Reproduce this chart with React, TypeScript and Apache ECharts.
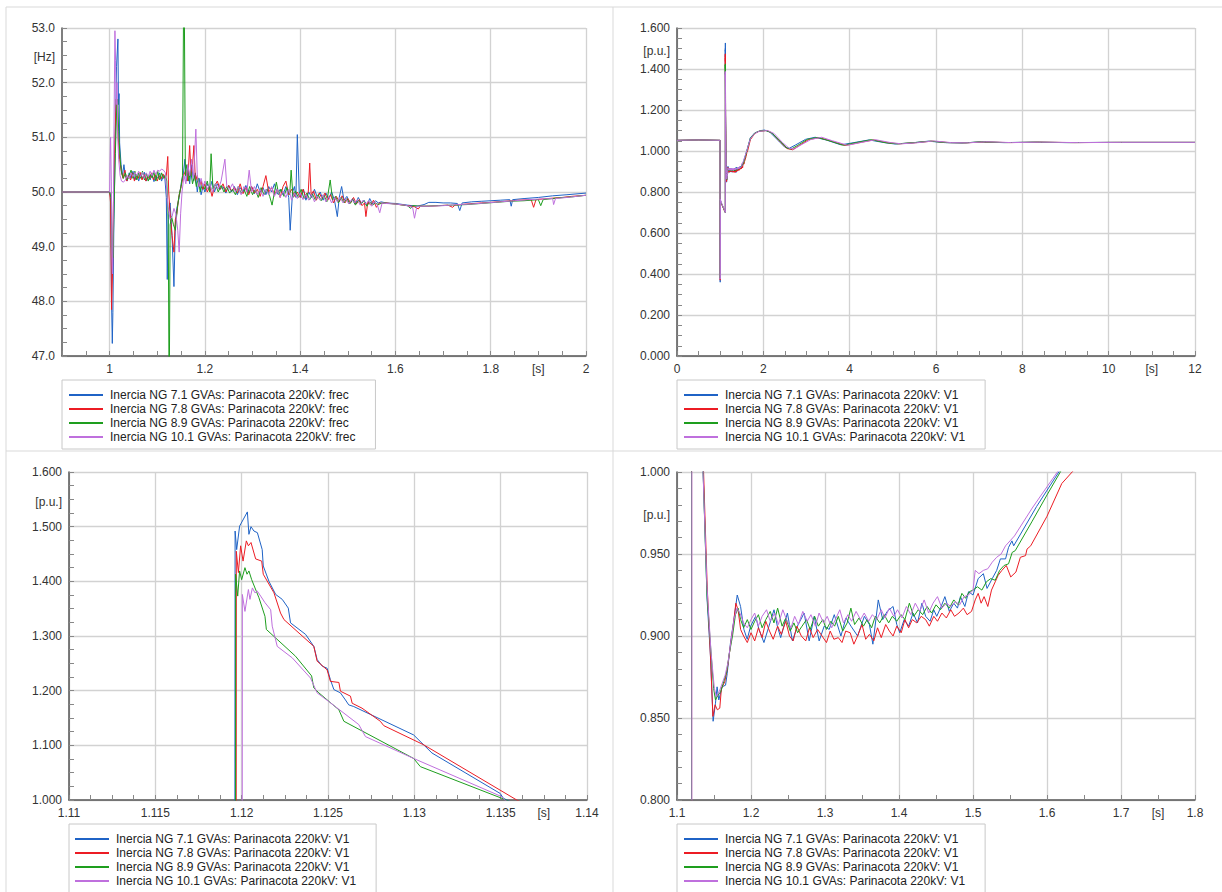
import React, { useEffect, useRef } from 'react';
import * as echarts from 'echarts';

const FONT = "'Liberation Sans', Arial, Helvetica, sans-serif";

const namesFreq = [
  'Inercia NG 7.1 GVAs: Parinacota 220kV: frec',
  'Inercia NG 7.8 GVAs: Parinacota 220kV: frec',
  'Inercia NG 8.9 GVAs: Parinacota 220kV: frec',
  'Inercia NG 10.1 GVAs: Parinacota 220kV: frec',
];
const namesV1 = [
  'Inercia NG 7.1 GVAs: Parinacota 220kV: V1',
  'Inercia NG 7.8 GVAs: Parinacota 220kV: V1',
  'Inercia NG 8.9 GVAs: Parinacota 220kV: V1',
  'Inercia NG 10.1 GVAs: Parinacota 220kV: V1',
];
const colors = ['#1f63c6', '#ec1c24', '#1e9e1e', '#bf70dd'];

// tick labels
const freqXLabels = [1, 1.2, 1.4, 1.6, 1.8, 2];
const v1FullXLabels = [0, 2, 4, 6, 8, 10, 12];
const v1ZoomXLabels = [1.11, 1.115, 1.12, 1.125, 1.13, 1.135, 1.14];
const v1MidXLabels = [1.1, 1.2, 1.3, 1.4, 1.5, 1.6, 1.7, 1.8];
const unitPos = { freq: 1.9, full: 11, zoom: 1.1375, mid: 1.75 };

// frequency [s, Hz]
const freqBlue = [
  [0.9,50.0],[1.0,50.0],[1.002,49.9],[1.004,48.0],[1.0056,47.23],[1.0068,47.8],[1.009,49.5],[1.012,51.0],[1.0145,52.3],[1.0174,52.8],[1.0185,51.6],[1.0198,51.8],[1.021,50.9],[1.024,50.5],[1.027,50.3],[1.03,50.5],[1.033,50.3],[1.037,50.2],[1.041,50.35],[1.045,50.25],[1.049,50.38],[1.053,50.22],[1.057,50.32],[1.061,50.2],[1.065,50.33],[1.069,50.24],[1.073,50.36],[1.077,50.2],[1.081,50.3],[1.085,50.22],[1.089,50.34],[1.093,50.19],[1.097,50.3],[1.101,50.25],[1.105,50.35],[1.109,50.2],[1.113,50.3],[1.116,50.25],[1.119,49.9],[1.121,48.4],[1.123,49.6],[1.127,49.8],[1.131,49.2],[1.135,48.27],[1.138,49.4],[1.141,49.7],[1.146,49.9],[1.151,50.2],[1.155,50.35],[1.158,50.6],[1.161,50.2],[1.165,50.4],[1.168,50.15],[1.172,50.5],[1.176,50.2],[1.18,50.35],[1.184,50.0],[1.188,50.25],[1.192,49.95],[1.196,50.1],[1.2,50.0],[1.205,50.15],[1.21,50.05],[1.215,50.2],[1.22,50.0],[1.226,50.15],[1.232,50.05],[1.238,50.1],[1.244,49.98],[1.25,50.12],[1.256,50.0],[1.262,50.1],[1.268,49.95],[1.274,50.08],[1.28,50.0],[1.286,50.12],[1.292,49.98],[1.298,50.1],[1.304,49.97],[1.31,50.15],[1.316,50.0],[1.322,50.08],[1.328,49.95],[1.334,50.1],[1.34,50.0],[1.346,50.15],[1.352,49.96],[1.358,50.05],[1.364,49.95],[1.37,50.1],[1.376,49.9],[1.379,49.3],[1.384,50.0],[1.388,50.1],[1.391,49.9],[1.394,51.05],[1.398,50.0],[1.402,49.9],[1.407,50.05],[1.412,49.85],[1.418,50.0],[1.424,49.9],[1.43,50.05],[1.436,49.9],[1.442,50.0],[1.448,49.85],[1.454,49.98],[1.46,49.88],[1.466,50.0],[1.472,49.85],[1.478,49.55],[1.482,49.9],[1.487,50.1],[1.492,49.85],[1.498,49.92],[1.504,49.8],[1.51,49.88],[1.516,49.78],[1.522,49.9],[1.528,49.8],[1.534,49.85],[1.54,49.75],[1.546,49.88],[1.552,49.78],[1.558,49.84],[1.564,49.8],[1.57,49.82],[1.58,49.8],[1.6,49.79],[1.625,49.76],[1.645,49.74],[1.66,49.77],[1.67,49.81],[1.685,49.81],[1.7,49.8],[1.715,49.8],[1.73,49.79],[1.735,49.66],[1.74,49.8],[1.76,49.82],[1.78,49.83],[1.8,49.84],[1.82,49.85],[1.84,49.86],[1.843,49.74],[1.846,49.86],[1.87,49.88],[1.9,49.9],[1.93,49.93],[1.96,49.95],[2.0,49.98],
];
const freqRed = [
  [0.9,50.0],[1.0,50.0],[1.002,49.8],[1.0035,48.3],[1.004,47.85],[1.006,48.5],[1.008,49.8],[1.011,51.0],[1.014,51.7],[1.016,51.4],[1.018,51.0],[1.021,50.6],[1.024,50.4],[1.028,50.25],[1.032,50.4],[1.036,50.2],[1.04,50.3],[1.044,50.22],[1.048,50.35],[1.052,50.2],[1.056,50.3],[1.06,50.25],[1.064,50.36],[1.068,50.22],[1.072,50.32],[1.076,50.2],[1.08,50.3],[1.084,50.24],[1.088,50.35],[1.092,50.22],[1.096,50.32],[1.1,50.2],[1.104,50.3],[1.108,50.24],[1.112,50.33],[1.116,50.25],[1.119,50.3],[1.122,50.65],[1.124,50.0],[1.127,49.6],[1.131,49.2],[1.135,48.9],[1.138,49.5],[1.141,49.6],[1.145,49.9],[1.15,50.1],[1.155,50.3],[1.16,50.4],[1.164,50.2],[1.168,50.85],[1.171,50.3],[1.174,50.5],[1.177,50.85],[1.18,50.2],[1.184,50.3],[1.188,50.1],[1.192,50.2],[1.196,50.05],[1.2,50.15],[1.205,50.0],[1.21,50.1],[1.215,49.92],[1.22,50.1],[1.226,50.2],[1.232,50.05],[1.238,50.15],[1.244,50.0],[1.25,50.12],[1.256,50.02],[1.262,50.08],[1.268,49.98],[1.274,50.15],[1.28,49.97],[1.286,50.08],[1.292,49.95],[1.298,50.1],[1.304,49.98],[1.31,50.05],[1.316,49.92],[1.322,50.1],[1.328,50.3],[1.334,50.0],[1.34,50.08],[1.346,49.95],[1.352,50.05],[1.358,49.9],[1.364,50.1],[1.37,50.2],[1.376,49.95],[1.382,50.05],[1.388,49.92],[1.394,50.0],[1.4,49.9],[1.406,50.05],[1.412,49.9],[1.417,50.0],[1.42,50.53],[1.423,49.95],[1.428,50.02],[1.434,49.85],[1.44,49.98],[1.446,49.88],[1.452,49.98],[1.458,49.85],[1.464,49.95],[1.47,49.8],[1.476,49.92],[1.482,49.82],[1.488,49.93],[1.494,49.8],[1.5,49.88],[1.506,49.8],[1.512,49.9],[1.518,49.78],[1.524,49.86],[1.53,49.75],[1.535,49.8],[1.538,49.55],[1.542,49.82],[1.548,49.76],[1.554,49.85],[1.56,49.72],[1.566,49.8],[1.572,49.79],[1.58,49.8],[1.6,49.78],[1.625,49.75],[1.64,49.73],[1.648,49.69],[1.652,49.74],[1.67,49.74],[1.69,49.75],[1.71,49.76],[1.72,49.72],[1.725,49.76],[1.75,49.78],[1.78,49.8],[1.8,49.81],[1.83,49.83],[1.86,49.85],[1.885,49.86],[1.89,49.72],[1.895,49.86],[1.92,49.88],[1.95,49.9],[1.97,49.92],[2.0,49.94],
];
const freqGreen = [
  [0.9,50.0],[1.0,50.0],[1.003,49.9],[1.005,49.0],[1.007,48.8],[1.009,49.6],[1.012,50.7],[1.015,51.6],[1.017,51.7],[1.019,51.1],[1.022,50.6],[1.025,50.35],[1.029,50.25],[1.033,50.35],[1.037,50.22],[1.041,50.3],[1.045,50.4],[1.049,50.25],[1.053,50.38],[1.057,50.22],[1.061,50.35],[1.065,50.25],[1.069,50.38],[1.073,50.22],[1.077,50.34],[1.081,50.2],[1.085,50.32],[1.089,50.26],[1.093,50.36],[1.097,50.2],[1.101,50.38],[1.105,50.22],[1.109,50.35],[1.113,50.25],[1.117,50.32],[1.12,50.2],[1.123,49.5],[1.125,46.0],[1.127,49.4],[1.13,49.55],[1.134,49.4],[1.138,49.3],[1.142,49.7],[1.146,49.95],[1.15,50.1],[1.153,50.3],[1.156,54.5],[1.159,50.3],[1.162,50.5],[1.166,50.2],[1.17,50.4],[1.174,50.15],[1.178,50.3],[1.182,50.1],[1.186,50.25],[1.19,50.0],[1.195,50.15],[1.2,50.05],[1.205,50.2],[1.21,50.0],[1.213,50.7],[1.217,50.05],[1.222,50.15],[1.228,50.0],[1.234,50.12],[1.24,50.0],[1.246,50.1],[1.252,49.98],[1.258,50.05],[1.264,49.95],[1.27,50.1],[1.276,49.98],[1.282,50.05],[1.288,49.92],[1.294,50.1],[1.3,49.95],[1.306,50.05],[1.312,49.9],[1.318,50.08],[1.324,49.95],[1.33,50.05],[1.336,49.92],[1.341,49.76],[1.346,50.0],[1.35,50.18],[1.355,49.95],[1.36,50.05],[1.366,49.92],[1.372,50.08],[1.378,49.95],[1.381,50.4],[1.385,49.9],[1.39,50.02],[1.396,49.9],[1.402,50.05],[1.408,49.88],[1.414,49.98],[1.42,49.86],[1.426,49.96],[1.432,49.85],[1.438,49.95],[1.444,49.84],[1.45,49.94],[1.456,49.82],[1.463,50.22],[1.468,49.85],[1.474,49.92],[1.48,49.8],[1.486,49.9],[1.492,49.8],[1.498,49.88],[1.504,49.78],[1.51,49.86],[1.516,49.76],[1.522,49.85],[1.528,49.78],[1.534,49.84],[1.54,49.74],[1.546,49.82],[1.552,49.76],[1.558,49.8],[1.564,49.77],[1.572,49.8],[1.6,49.78],[1.625,49.75],[1.632,49.7],[1.636,49.75],[1.66,49.74],[1.69,49.75],[1.72,49.76],[1.75,49.77],[1.78,49.79],[1.81,49.81],[1.84,49.83],[1.87,49.84],[1.9,49.86],[1.905,49.75],[1.91,49.86],[1.94,49.89],[1.97,49.91],[2.0,49.94],
];
const freqPurple = [
  [0.9,50.0],[1.0,50.0],[1.001,50.6],[1.002,51.0],[1.0035,50.2],[1.005,48.9],[1.006,48.5],[1.008,49.8],[1.0095,51.5],[1.0111,52.95],[1.0125,52.4],[1.014,51.6],[1.0155,52.0],[1.017,51.0],[1.019,50.6],[1.022,50.3],[1.025,50.2],[1.029,50.18],[1.033,50.22],[1.037,50.3],[1.041,50.25],[1.045,50.35],[1.049,50.28],[1.053,50.36],[1.057,50.3],[1.061,50.38],[1.065,50.28],[1.069,50.36],[1.073,50.25],[1.077,50.35],[1.081,50.28],[1.085,50.38],[1.089,50.3],[1.093,50.4],[1.097,50.32],[1.101,50.4],[1.105,50.38],[1.109,50.42],[1.113,50.4],[1.117,50.35],[1.12,50.0],[1.123,49.7],[1.127,49.5],[1.131,49.55],[1.135,49.7],[1.139,49.6],[1.143,49.3],[1.146,48.9],[1.149,49.6],[1.152,50.0],[1.156,50.3],[1.16,50.15],[1.164,50.5],[1.168,50.3],[1.172,50.6],[1.176,50.25],[1.181,51.15],[1.184,50.3],[1.188,50.1],[1.192,50.25],[1.196,50.1],[1.2,50.2],[1.205,50.05],[1.21,50.15],[1.216,50.0],[1.222,50.15],[1.228,50.05],[1.234,50.2],[1.242,50.6],[1.246,50.1],[1.252,50.05],[1.258,50.15],[1.264,50.0],[1.27,50.1],[1.276,49.95],[1.282,50.1],[1.288,50.0],[1.293,50.4],[1.298,50.0],[1.304,50.1],[1.31,49.95],[1.316,50.05],[1.322,49.92],[1.328,50.05],[1.334,49.95],[1.34,50.1],[1.346,49.92],[1.352,50.05],[1.358,49.9],[1.364,50.02],[1.37,49.9],[1.376,50.05],[1.382,49.85],[1.388,49.98],[1.394,49.88],[1.4,49.98],[1.406,49.86],[1.412,49.95],[1.418,49.85],[1.424,49.95],[1.43,49.82],[1.436,49.92],[1.442,49.85],[1.448,49.95],[1.454,49.82],[1.46,49.92],[1.466,49.8],[1.472,49.9],[1.478,49.82],[1.484,49.9],[1.49,49.8],[1.496,49.88],[1.502,49.78],[1.508,49.86],[1.514,49.8],[1.52,49.86],[1.526,49.76],[1.532,49.85],[1.538,49.78],[1.544,49.84],[1.55,49.74],[1.556,49.82],[1.562,49.76],[1.567,49.62],[1.572,49.8],[1.58,49.79],[1.6,49.78],[1.62,49.76],[1.636,49.72],[1.64,49.52],[1.645,49.74],[1.67,49.74],[1.7,49.75],[1.73,49.77],[1.76,49.78],[1.79,49.8],[1.82,49.82],[1.85,49.84],[1.88,49.86],[1.9,49.87],[1.93,49.88],[1.932,49.77],[1.936,49.88],[1.96,49.9],[2.0,49.94],
];

// voltage V1 [s, p.u.] (shared by the three voltage panels)
const v1Blue = [
  [0,1.052],[0.5,1.054],[0.998,1.052],[1.0005,0.36],[1.003,0.76],[1.04,0.74],[1.08,0.72],[1.1,0.71],[1.1196,0.70],
  [1.11962,1.492],[1.11971,1.458],[1.11988,1.501],[1.12033,1.527],[1.12042,1.486],[1.12054,1.5],[1.12071,1.492],[1.12091,1.489],[1.12119,1.458],[1.12125,1.428],[1.12158,1.4],[1.12197,1.376],[1.12235,1.367],[1.1227,1.351],[1.12283,1.324],[1.1237,1.303],[1.12418,1.281],[1.12437,1.257],[1.12466,1.245],[1.12495,1.241],[1.12514,1.22],[1.12534,1.202],[1.12572,1.196],[1.12601,1.183],[1.1262,1.174],[1.12649,1.171],[1.12996,1.119],[1.13102,1.086],[1.13497,1.012],[1.13516,1.003],
  [1.1407,0.922],[1.1452,0.888],[1.1488,0.848],[1.152,0.859],[1.1542,0.869],[1.1565,0.861],[1.161,0.869],[1.1656,0.87],[1.1678,0.877],[1.1723,0.896],[1.1769,0.91],[1.1814,0.925],[1.1859,0.918],[1.1904,0.904],[1.1949,0.898],[1.1995,0.906],[1.2062,0.912],[1.2108,0.904],[1.2175,0.896],[1.2243,0.906],[1.2311,0.916],[1.2356,0.906],[1.2401,0.899],[1.2492,0.914],[1.256,0.897],[1.2627,0.906],[1.2718,0.914],[1.2786,0.897],[1.2854,0.912],[1.2921,0.897],[1.2989,0.906],[1.3057,0.904],[1.3125,0.913],[1.3215,0.9],[1.3283,0.911],[1.3351,0.906],[1.3441,0.9],[1.3532,0.912],[1.36,0.907],[1.3647,0.895],[1.372,0.922],[1.378,0.91],[1.384,0.915],[1.392,0.918],[1.397,0.907],[1.401,0.902],[1.407,0.91],[1.413,0.906],[1.419,0.914],[1.425,0.908],[1.431,0.92],[1.436,0.912],[1.442,0.909],[1.447,0.916],[1.451,0.912],[1.457,0.918],[1.462,0.924],[1.468,0.915],[1.474,0.92],[1.479,0.917],[1.483,0.924],[1.489,0.918],[1.494,0.927],[1.5,0.925],[1.507,0.935],[1.514,0.938],[1.519,0.929],[1.526,0.935],[1.532,0.94],[1.537,0.947],[1.544,0.947],[1.548,0.954],[1.5526,0.958],[1.555,0.955],[1.586,0.979],[1.616,1.0],
  [1.7,1.065],[1.8,1.088],[1.95,1.1],[2.03,1.102],[2.15,1.092],[2.35,1.05],[2.5,1.018],[2.6,1.013],[2.75,1.03],[2.98,1.057],[3.2,1.067],[3.45,1.054],[3.8,1.03],[4.1,1.041],[4.45,1.054],[4.8,1.041],[5.05,1.034],[5.45,1.04],[5.82,1.048],[6.2,1.041],[6.6,1.039],[7.0,1.044],[7.55,1.041],[8.25,1.043],[9.0,1.041],[10.0,1.042],[12,1.042],
];
const v1Red = [
  [0,1.052],[0.5,1.054],[0.998,1.052],[1.0006,0.37],[1.0032,0.755],[1.04,0.738],[1.08,0.718],[1.1,0.708],[1.11968,0.70],
  [1.11969,1.455],[1.11981,1.416],[1.11994,1.465],[1.12008,1.437],[1.12027,1.474],[1.12039,1.465],[1.12054,1.471],[1.12081,1.441],[1.12116,1.437],[1.12125,1.413],[1.12187,1.379],[1.12225,1.342],[1.12245,1.33],[1.12418,1.281],[1.12437,1.254],[1.12495,1.238],[1.12514,1.217],[1.12563,1.215],[1.12572,1.199],[1.1263,1.19],[1.1264,1.177],[1.12697,1.168],[1.12803,1.144],[1.12823,1.136],[1.13054,1.101],[1.13593,1.0],
  [1.1408,0.93],[1.1455,0.885],[1.1485,0.851],[1.1515,0.858],[1.1545,0.855],[1.1578,0.856],[1.16,0.868],[1.1645,0.872],[1.168,0.88],[1.1725,0.895],[1.1765,0.908],[1.1795,0.92],[1.1825,0.916],[1.186,0.904],[1.19,0.9],[1.195,0.896],[1.2,0.902],[1.205,0.897],[1.21,0.905],[1.215,0.899],[1.22,0.909],[1.225,0.903],[1.23,0.898],[1.236,0.906],[1.241,0.901],[1.247,0.909],[1.252,0.9],[1.257,0.897],[1.262,0.906],[1.268,0.9],[1.274,0.897],[1.279,0.905],[1.284,0.899],[1.29,0.904],[1.296,0.9],[1.302,0.896],[1.307,0.903],[1.312,0.898],[1.318,0.899],[1.323,0.896],[1.328,0.903],[1.334,0.902],[1.339,0.895],[1.344,0.9],[1.35,0.907],[1.355,0.898],[1.36,0.901],[1.366,0.897],[1.371,0.905],[1.376,0.899],[1.382,0.907],[1.387,0.903],[1.392,0.9],[1.397,0.906],[1.403,0.902],[1.408,0.91],[1.413,0.905],[1.418,0.91],[1.424,0.908],[1.43,0.912],[1.436,0.91],[1.441,0.906],[1.447,0.912],[1.452,0.909],[1.458,0.914],[1.464,0.911],[1.47,0.916],[1.475,0.912],[1.481,0.914],[1.487,0.917],[1.492,0.913],[1.498,0.915],[1.503,0.922],[1.507,0.926],[1.511,0.92],[1.515,0.924],[1.52,0.918],[1.525,0.928],[1.53,0.933],[1.534,0.937],[1.539,0.94],[1.545,0.943],[1.551,0.936],[1.558,0.939],[1.564,0.948],[1.571,0.949],[1.573,0.953],[1.578,0.955],[1.6,0.973],[1.62,0.993],[1.638,1.002],
  [1.7,1.055],[1.8,1.085],[1.9,1.096],[2.08,1.1],[2.2,1.088],[2.4,1.043],[2.55,1.012],[2.68,1.006],[2.82,1.025],[3.05,1.056],[3.3,1.065],[3.55,1.05],[3.9,1.027],[4.2,1.04],[4.55,1.054],[4.9,1.04],[5.15,1.035],[5.5,1.04],[5.9,1.048],[6.3,1.041],[6.7,1.04],[7.1,1.044],[7.7,1.041],[8.4,1.043],[9.2,1.041],[10.2,1.042],[12,1.042],
];
const v1Green = [
  [0,1.052],[0.5,1.054],[0.998,1.052],[1.0006,0.38],[1.0031,0.758],[1.04,0.739],[1.08,0.72],[1.1,0.709],[1.11964,0.70],
  [1.11965,1.413],[1.11977,1.373],[1.11988,1.419],[1.12,1.403],[1.12019,1.425],[1.12031,1.413],[1.12042,1.419],[1.12058,1.403],[1.121,1.37],[1.12135,1.336],[1.12143,1.312],[1.12312,1.263],[1.12405,1.227],[1.12418,1.205],[1.12447,1.196],[1.12563,1.165],[1.12592,1.144],[1.12996,1.076],[1.13035,1.061],[1.13516,1.002],
  [1.1405,0.925],[1.1455,0.893],[1.1495,0.868],[1.152,0.861],[1.1555,0.864],[1.159,0.866],[1.163,0.872],[1.167,0.878],[1.171,0.89],[1.175,0.9],[1.179,0.913],[1.1825,0.917],[1.186,0.91],[1.19,0.905],[1.195,0.91],[1.2,0.904],[1.205,0.909],[1.21,0.913],[1.215,0.905],[1.22,0.91],[1.226,0.915],[1.231,0.908],[1.236,0.917],[1.242,0.906],[1.247,0.911],[1.253,0.903],[1.258,0.908],[1.263,0.902],[1.269,0.906],[1.275,0.91],[1.28,0.904],[1.286,0.912],[1.291,0.906],[1.297,0.91],[1.302,0.904],[1.308,0.909],[1.313,0.906],[1.318,0.912],[1.324,0.903],[1.33,0.908],[1.335,0.917],[1.34,0.907],[1.346,0.911],[1.352,0.906],[1.357,0.91],[1.363,0.905],[1.368,0.912],[1.374,0.908],[1.38,0.913],[1.386,0.908],[1.391,0.912],[1.397,0.909],[1.403,0.913],[1.408,0.91],[1.414,0.92],[1.42,0.912],[1.426,0.916],[1.432,0.913],[1.438,0.918],[1.444,0.914],[1.45,0.919],[1.456,0.916],[1.462,0.92],[1.468,0.917],[1.474,0.922],[1.48,0.919],[1.485,0.926],[1.49,0.923],[1.495,0.927],[1.5,0.928],[1.506,0.93],[1.512,0.928],[1.518,0.933],[1.524,0.935],[1.53,0.934],[1.536,0.94],[1.542,0.943],[1.548,0.944],[1.553,0.951],[1.557,0.952],[1.58,0.97],[1.6,0.986],[1.618,1.0],
  [1.7,1.062],[1.8,1.087],[1.9,1.097],[2.06,1.1],[2.2,1.088],[2.4,1.045],[2.55,1.014],[2.65,1.01],[2.8,1.028],[3.02,1.057],[3.25,1.066],[3.5,1.052],[3.85,1.028],[4.15,1.041],[4.5,1.055],[4.85,1.04],[5.1,1.035],[5.5,1.041],[5.88,1.048],[6.25,1.041],[6.7,1.04],[7.05,1.045],[7.6,1.041],[8.35,1.043],[9.1,1.041],[10.1,1.042],[12,1.042],
];
const v1Purple = [
  [0,1.052],[0.5,1.054],[0.998,1.052],[1.0006,0.375],[1.0031,0.765],[1.04,0.742],[1.08,0.722],[1.1,0.712],[1.12003,0.70],
  [1.12004,1.376],[1.12019,1.345],[1.12039,1.385],[1.12048,1.367],[1.12062,1.388],[1.12077,1.379],[1.12091,1.382],[1.1211,1.373],[1.12135,1.361],[1.12168,1.348],[1.12177,1.318],[1.12206,1.281],[1.12293,1.26],[1.12399,1.223],[1.12437,1.196],[1.12505,1.18],[1.12678,1.138],[1.12717,1.116],[1.12996,1.076],[1.13507,1.006],[1.13526,0.999],
  [1.1405,0.93],[1.146,0.89],[1.1505,0.868],[1.1533,0.863],[1.157,0.866],[1.161,0.871],[1.165,0.876],[1.169,0.884],[1.173,0.897],[1.177,0.91],[1.181,0.917],[1.185,0.914],[1.19,0.908],[1.195,0.905],[1.2,0.91],[1.205,0.914],[1.21,0.906],[1.215,0.912],[1.221,0.916],[1.226,0.909],[1.232,0.914],[1.237,0.907],[1.243,0.916],[1.248,0.91],[1.254,0.905],[1.259,0.912],[1.264,0.907],[1.27,0.915],[1.276,0.909],[1.281,0.913],[1.287,0.906],[1.292,0.914],[1.298,0.908],[1.303,0.912],[1.309,0.905],[1.314,0.91],[1.32,0.916],[1.325,0.908],[1.331,0.913],[1.336,0.909],[1.342,0.915],[1.348,0.91],[1.353,0.914],[1.359,0.909],[1.364,0.913],[1.37,0.91],[1.376,0.916],[1.381,0.911],[1.387,0.917],[1.393,0.912],[1.398,0.916],[1.404,0.911],[1.41,0.918],[1.416,0.913],[1.422,0.92],[1.428,0.915],[1.434,0.922],[1.44,0.914],[1.446,0.92],[1.452,0.924],[1.458,0.917],[1.464,0.92],[1.47,0.918],[1.476,0.921],[1.482,0.919],[1.488,0.924],[1.494,0.925],[1.5,0.928],[1.503,0.94],[1.508,0.938],[1.514,0.94],[1.52,0.941],[1.526,0.945],[1.532,0.948],[1.538,0.95],[1.544,0.955],[1.55,0.958],[1.556,0.961],[1.58,0.978],[1.6,0.991],[1.614,1.0],
  [1.7,1.06],[1.8,1.085],[1.9,1.096],[2.1,1.1],[2.25,1.085],[2.45,1.04],[2.6,1.013],[2.72,1.01],[2.85,1.027],[3.1,1.056],[3.35,1.067],[3.6,1.05],[3.95,1.028],[4.25,1.041],[4.6,1.055],[4.95,1.041],[5.2,1.035],[5.55,1.04],[5.95,1.049],[6.35,1.041],[6.75,1.04],[7.15,1.045],[7.75,1.041],[8.45,1.043],[9.3,1.041],[10.3,1.042],[12,1.042],
];

const freqData = [freqBlue, freqRed, freqGreen, freqPurple];
const v1Data = [v1Blue, v1Red, v1Green, v1Purple];

const GRID_C = '#d2d2d2';
const near = (a: number, b: number, eps: number) => Math.abs(a - b) < eps;

function xLabelFmt(labels: number[], unitAt: number, eps: number) {
  return (v: number) => {
    if (near(v, unitAt, eps)) return '[s]';
    const hit = labels.find((t) => near(t, v, eps));
    return hit !== undefined ? String(hit) : '';
  };
}

function makeX(gridIndex: number, min: number, max: number, interval: number, minorSplit: number, fmt: any, splitColors: string[]) {
  return {
    type: 'value', gridIndex, min, max, interval,
    axisLine: { show: true, onZero: false, lineStyle: { color: '#555', width: 1.5 } },
    axisTick: { show: true, inside: true, length: 5, lineStyle: { color: '#888' } },
    minorTick: { show: minorSplit > 1, splitNumber: minorSplit, length: 5, lineStyle: { color: '#888' } },
    axisLabel: { show: true, formatter: fmt, margin: 7, color: '#333', fontSize: 12, fontFamily: FONT, showMinLabel: true, showMaxLabel: true, hideOverlap: false },
    splitLine: { show: true, showMinLine: true, showMaxLine: true, lineStyle: { color: splitColors, width: 1.3 } },
    minorSplitLine: { show: false },
  };
}
function makeY(gridIndex: number, min: number, max: number, interval: number, minorSplit: number, digits: number) {
  return {
    type: 'value', gridIndex, min, max, interval,
    axisLine: { show: true, onZero: false, lineStyle: { color: '#555', width: 1.5 } },
    axisTick: { show: true, inside: true, length: 5, lineStyle: { color: '#888' } },
    minorTick: { show: true, splitNumber: minorSplit, length: 5, lineStyle: { color: '#888' } },
    axisLabel: { show: true, formatter: (v: number) => v.toFixed(digits), margin: 7, color: '#333', fontSize: 12, fontFamily: FONT, showMinLabel: true, showMaxLabel: true, hideOverlap: false },
    splitLine: { show: true, lineStyle: { color: GRID_C, width: 1.3 } },
    minorSplitLine: { show: false },
  };
}

function makeLegend(names: string[], left: number, top: number, padLeft: number) {
  return {
    show: true, orient: 'vertical', left, top, height: 120,
    data: names.map((n, i) => ({ name: n, icon: 'rect', itemStyle: { color: colors[i] } })),
    itemWidth: 34, itemHeight: 2, itemGap: 0,
    padding: [8, 20, 5, padLeft],
    borderColor: '#c8c8c8', borderWidth: 1, borderRadius: 0, backgroundColor: '#fff',
    selectedMode: false,
    textStyle: { fontFamily: FONT, fontSize: 12, color: '#222', lineHeight: 14, padding: [0, 0, 0, 2] },
  };
}

export default function App() {
  const ref = useRef<HTMLDivElement>(null);
  useEffect(() => {
    document.body.style.margin = '0';
    const chart = echarts.init(ref.current!, undefined, { renderer: 'svg' });
    const series: any[] = [];
    freqData.forEach((d, i) => series.push({
      type: 'line', name: namesFreq[i], xAxisIndex: 0, yAxisIndex: 0, data: d,
      symbol: 'none', showSymbol: false, clip: true, lineStyle: { width: 1, color: colors[i] }, itemStyle: { color: colors[i] },
    }));
    [1, 2, 3].forEach((ax) => v1Data.forEach((d, i) => series.push({
      type: 'line', name: namesV1[i], xAxisIndex: ax, yAxisIndex: ax, data: d,
      symbol: 'none', showSymbol: false, clip: true, lineStyle: { width: 1, color: colors[i] }, itemStyle: { color: colors[i] },
    })));
    const TRANSP = 'rgba(0,0,0,0)';
    const txt = (text: string, x: number, y: number) => ({
      type: 'text', x, y, style: { text, fill: '#333', fontSize: 12, fontFamily: FONT, align: 'right', verticalAlign: 'middle' },
    });
    const ln = (x1: number, y1: number, x2: number, y2: number) => ({
      type: 'line', shape: { x1, y1, x2, y2 }, style: { stroke: '#d9d9d9', lineWidth: 1 }, silent: true,
    });
    chart.setOption({
      animation: false,
      backgroundColor: '#fff',
      textStyle: { fontFamily: FONT },
      grid: [
        { left: 62, top: 28, width: 524, height: 328, outerBoundsMode: 'none' },
        { left: 677, top: 28, width: 518, height: 328, outerBoundsMode: 'none' },
        { left: 69, top: 472, width: 518, height: 328, outerBoundsMode: 'none' },
        { left: 677, top: 472, width: 518, height: 328, outerBoundsMode: 'none' },
      ],
      xAxis: [
        makeX(0, 0.9, 2.0, 0.1, 2, xLabelFmt(freqXLabels, unitPos.freq, 1e-6), [TRANSP, GRID_C]),
        makeX(1, 0, 12, 1, 2, xLabelFmt(v1FullXLabels, unitPos.full, 1e-6), [GRID_C, TRANSP]),
        makeX(2, 1.11, 1.14, 0.0025, 2, xLabelFmt(v1ZoomXLabels, unitPos.zoom, 1e-7), [GRID_C, TRANSP]),
        makeX(3, 1.1, 1.8, 0.05, 1, xLabelFmt(v1MidXLabels, unitPos.mid, 1e-6), [GRID_C, TRANSP]),
      ],
      yAxis: [
        makeY(0, 47, 53, 1, 4, 1),
        makeY(1, 0, 1.6, 0.2, 4, 3),
        makeY(2, 1.0, 1.6, 0.1, 4, 3),
        makeY(3, 0.8, 1.0, 0.05, 5, 3),
      ],
      legend: [
        makeLegend(namesFreq, 62, 380, 7),
        makeLegend(namesV1, 677, 380, 7),
        makeLegend(namesV1, 69, 824, 6),
        makeLegend(namesV1, 677, 824, 7),
      ],
      graphic: [
        ln(6, 7, 1222, 7), ln(6, 7, 6, 892), ln(613, 7, 613, 892), ln(6, 451, 1222, 451),
        txt('[Hz]', 55, 57), txt('[p.u.]', 670, 51), txt('[p.u.]', 62, 502), txt('[p.u.]', 670, 515),
      ],
      series,
    });
    return () => chart.dispose();
  }, []);
  return <div ref={ref} style={{ width: 1222, height: 892 }} />;
}
